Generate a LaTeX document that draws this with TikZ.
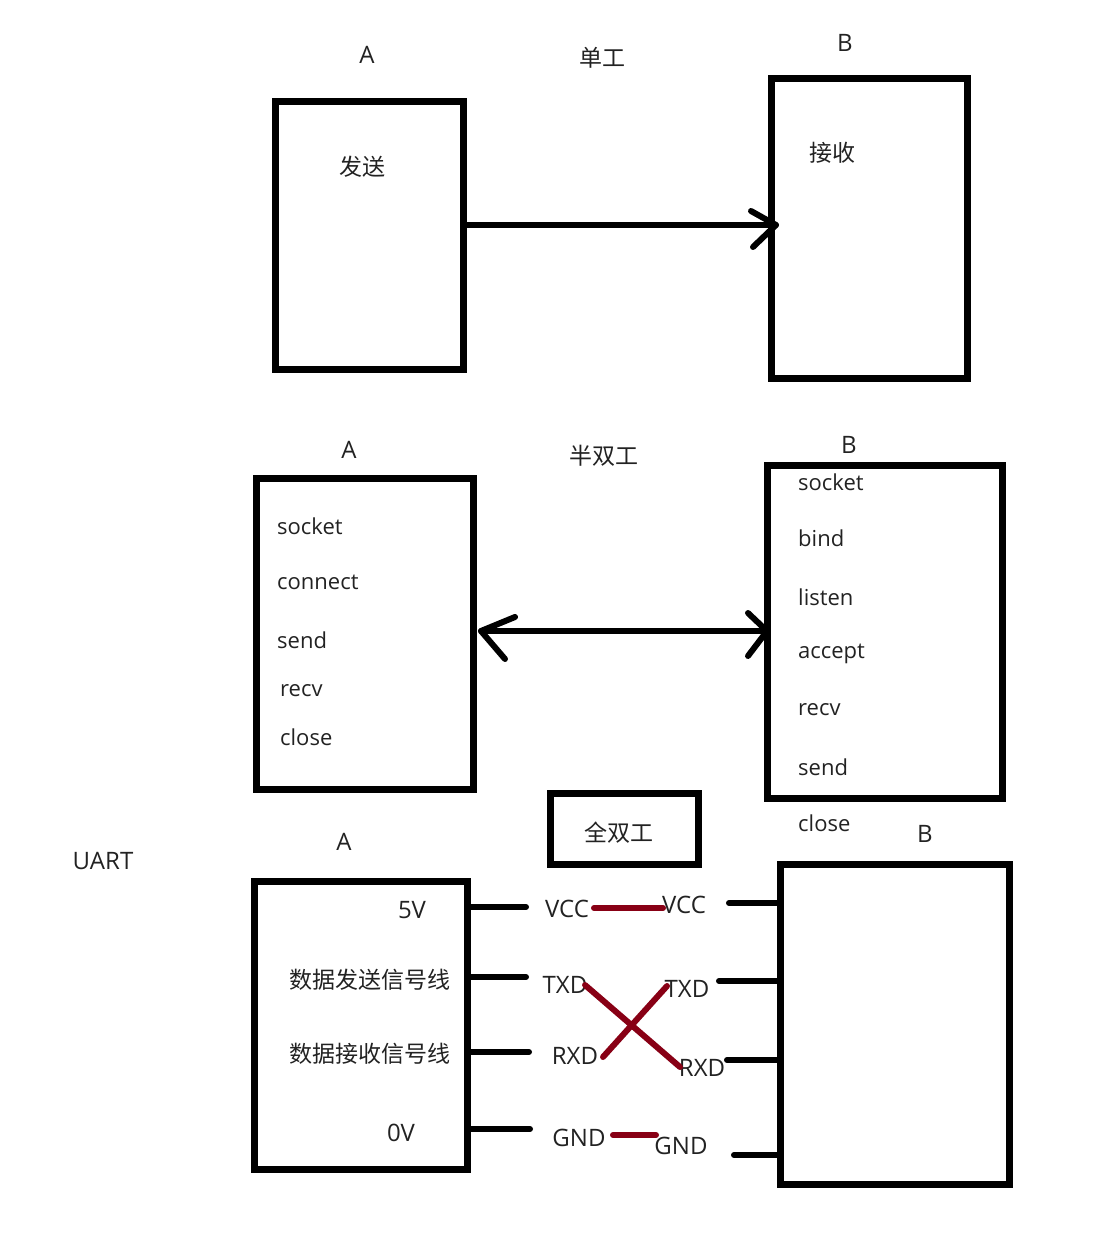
\documentclass[tikz,border=0pt]{standalone}
\usepackage{fontspec}
\setmainfont{Open Sans}
\newfontfamily\zhfont{Noto Sans CJK SC}
\definecolor{wred}{RGB}{136,0,21}
\definecolor{txt}{RGB}{34,34,34}
\begin{document}
\begin{tikzpicture}[x=1pt,y=-1pt,
  box/.style={draw, line width=7pt, inner sep=0pt, outer sep=0pt},
  lbl/.style={font=\fontsize{22}{26}\selectfont, text=txt, inner sep=0pt},
  caps/.style={lbl, font=\fontsize{24}{28}\selectfont},
  zh/.style={lbl, font=\zhfont\fontsize{23}{27}\selectfont},
  lleft/.style={lbl, anchor=west},
  wire/.style={line width=6pt, line cap=round, line join=round},
  redwire/.style={line width=6pt, draw=wred, line cap=round}]
\useasboundingbox (0,0) rectangle (1104,1233);

% ---------- simplex ----------
\node[caps] (tA1) at (367,55) {A};
\node[zh] (tS) at (602,58) {单工};
\node[caps] (tB1) at (845,43) {B};
\node[box, minimum width=188, minimum height=267] (a1) at (369,235.5) {};
\node[box, minimum width=196, minimum height=299] (b1) at (869,228.5) {};
\node[zh] (fs) at (362,167) {发送};
\node[zh] (js) at (832,153) {接收};
\coordinate (t1) at (776,225);
\coordinate (t1u) at (751,211);
\coordinate (t1d) at (753,247);
\draw[wire] (a1.east |- t1) -- (t1);
\draw[wire] (t1u) -- (t1) -- (t1d);

% ---------- half duplex ----------
\node[caps] (tA2) at (349,450) {A};
\node[zh] (tH) at (604,456) {半双工};
\node[caps] (tB2) at (849,445) {B};
\node[box, minimum width=217, minimum height=311] (a2) at (364.5,633.5) {};
\node[box, minimum width=235, minimum height=333] (b2) at (884.5,631.5) {};
\node[lleft] (a2s) at (277,526) {socket};
\node[lleft] (a2c) at (277,582) {connect};
\node[lleft] (a2d) at (277,640) {send};
\node[lleft] (a2r) at (280,691) {recv};
\node[lleft] (a2x) at (280,737) {close};
\node[lleft] (b2s) at (798,482) {socket};
\node[lleft] (b2b) at (798,538) {bind};
\node[lleft] (b2l) at (798,597) {listen};
\node[lleft] (b2a) at (798,654) {accept};
\node[lleft] (b2r) at (798,710) {recv};
\node[lleft] (b2d) at (798,767) {send};
\node[lleft] (b2x) at (798,823) {close};
\coordinate (t2l) at (481,631);
\coordinate (t2r) at (767,631);
\coordinate (t2lu) at (515,617);
\coordinate (t2ld) at (505,659);
\coordinate (t2ru) at (748,613);
\coordinate (t2rd) at (748,656);
\draw[wire] (t2l) -- (t2r);
\draw[wire] (t2lu) -- (t2l) -- (t2ld);
\draw[wire] (t2ru) -- (t2r) -- (t2rd);

% ---------- full duplex / UART ----------
\node[caps] (tU) at (103,861) {UART};
\node[caps] (tA3) at (344,842) {A};
\node[caps] (tB3) at (925,834) {B};
\node[box, minimum width=148, minimum height=71] (fd) at (624,828.5) {};
\node[zh] (fdt) at (619,833) {全双工};
\node[box, minimum width=213, minimum height=288] (a3) at (360.5,1025) {};
\node[box, minimum width=229, minimum height=320] (b3) at (894.5,1024) {};
\node[caps] (v5) at (412,910) {5V};
\node[zh] (dsend) at (370,980) {数据发送信号线};
\node[zh] (drecv) at (370,1054) {数据接收信号线};
\node[caps] (v0) at (401,1133) {0V};

% left stubs
\coordinate (s1) at (526,907);
\coordinate (s2) at (526,977);
\coordinate (s3) at (529,1052);
\coordinate (s4) at (530,1129);
\draw[wire] (a3.east |- s1) -- (s1);
\draw[wire] (a3.east |- s2) -- (s2);
\draw[wire] (a3.east |- s3) -- (s3);
\draw[wire] (a3.east |- s4) -- (s4);

% right stubs
\coordinate (r1) at (729,903);
\coordinate (r2) at (719,981);
\coordinate (r3) at (727,1060);
\coordinate (r4) at (734,1155);
\draw[wire] (r1) -- (b3.west |- r1);
\draw[wire] (r2) -- (b3.west |- r2);
\draw[wire] (r3) -- (b3.west |- r3);
\draw[wire] (r4) -- (b3.west |- r4);

% pin labels
\node[caps] (lv) at (567,909) {VCC};
\node[caps] (lt) at (565,985) {TXD};
\node[caps] (lr) at (575,1056) {RXD};
\node[caps] (lg) at (579,1138) {GND};
\node[caps] (rv) at (684,905) {VCC};
\node[caps] (rt) at (687,989) {TXD};
\node[caps] (rr) at (702,1068) {RXD};
\node[caps] (rg) at (681,1146) {GND};

% red wires
\coordinate (cv1) at (594,908);
\coordinate (cv2) at (663,908);
\coordinate (cg1) at (613,1135);
\coordinate (cg2) at (656,1135);
\coordinate (x1) at (585,985);
\coordinate (x2) at (680,1067);
\coordinate (x3) at (603,1057);
\coordinate (x4) at (667,986);
\draw[redwire] (cv1) -- (cv2);
\draw[redwire] (cg1) -- (cg2);
\draw[redwire] (x1) -- (x2);
\draw[redwire] (x3) -- (x4);
\end{tikzpicture}
\end{document}
